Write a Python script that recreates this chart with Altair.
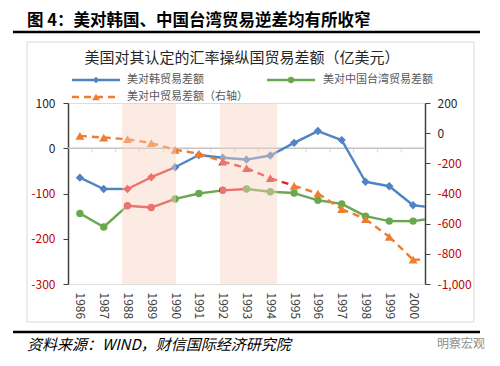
import altair as alt
import pandas as pd

# ---- data (亿美元) ----
years = list(range(1986, 2002))
korea = [-65, -90, -90, -64, -42, -15, -21, -25, -16, 12, 38, 18, -74, -84, -126, -132]
taiwan = [-144, -174, -127, -131, -112, -100, -93, -90, -96, -99, -115, -123, -150, -161, -161, -154]
china = [-18, -29, -40, -66, -110, -136, -188, -232, -298, -349, -400, -503, -570, -687, -839, -836]

korea_marked = [1988, 1989]
taiwan_marked = [1988, 1989, 1992]
china_marked = [1992, 1993, 1994]

band_start = [1987.77, 1991.89]
band_end = [1990.04, 1994.29]

left_ticks = [-300, -200, -100, 0, 100]
right_ticks = [-1000, -800, -600, -400, -200, 0, 200]
label_years = years[:-1]

name_kr = "美对韩贸易差额"
name_tw = "美对中国台湾贸易差额"
name_cn = "美对中贸易差额（右轴）"
chart_title = "美国对其认定的汇率操纵国贸易差额（亿美元）"
fig_title = "图 4：美对韩国、中国台湾贸易逆差均有所收窄"
source = "资料来源：WIND，财信国际经济研究院"
mark_txt = "明察宏观"

BLUE = "#4F84C4"
GREEN = "#6AA84F"
ORANGE = "#ED7D31"
RED = "#E0262E"
FONT = "Noto Sans CJK SC"

def point_df(vals, marked, base):
    return pd.DataFrame({
        "year": years, "value": vals,
        "color": [RED if y in marked else base for y in years],
    })

def seg_df(vals, marked, base):
    rows = []
    for i in range(len(years) - 1):
        c = RED if years[i] in marked else base
        rows.append({"seg": i, "year": years[i], "value": vals[i], "color": c})
        rows.append({"seg": i, "year": years[i + 1], "value": vals[i + 1], "color": c})
    return pd.DataFrame(rows)

xscale = alt.Scale(domain=[1985.5, 2000.5], nice=False, zero=False)
lscale = alt.Scale(domain=[-300, 100], nice=False, zero=False)
rscale = alt.Scale(domain=[-1000, 200], nice=False, zero=False)

lab_expr = "datum.value < 0 ? '-' + format(-datum.value, ',') : format(datum.value, ',')"
lab_color = {"condition": {"test": "datum.value < 0", "value": "#C00000"}, "value": "#262626"}

x_axis = alt.Axis(values=label_years, labelAngle=90, domain=False, ticks=False, grid=False,
                  title=None, labelPadding=8, labelFontSize=12, labelColor="#404040",
                  labelFlush=False, labelOverlap=False, format="d")
left_axis = alt.Axis(values=left_ticks, grid=False, title=None, domainColor="#404040",
                     domainWidth=1.5, tickColor="#404040", tickSize=5, labelPadding=8,
                     labelFontSize=12, labelExpr=lab_expr, labelColor=lab_color)
right_axis = alt.Axis(values=right_ticks, grid=False, title=None, orient="right",
                      domainColor="#404040", domainWidth=1.5, tickColor="#404040", tickSize=5,
                      labelPadding=7, labelFontSize=12, labelExpr=lab_expr, labelColor=lab_color)

dummy = pd.DataFrame({"d": [0]})

def txt(s, x, y, size, color, weight="normal", align="left", italic=False):
    return alt.Chart(dummy).mark_text(
        text=s, align=align, baseline="middle", fontSize=size, color=color,
        fontWeight=weight, fontStyle="italic" if italic else "normal", font=FONT
    ).encode(x=alt.value(x), y=alt.value(y))

def hline(x1, x2, y, color, width, dash=None):
    kw = dict(color=color, strokeWidth=width)
    if dash:
        kw["strokeDash"] = dash
    return alt.Chart(dummy).mark_rule(**kw).encode(x=alt.value(x1), x2=alt.value(x2), y=alt.value(y))

def sym(x, y, shape, color, size):
    return alt.Chart(dummy).mark_point(shape=shape, filled=True, size=size, color=color, opacity=1).encode(
        x=alt.value(x), y=alt.value(y))

# ---- left-axis layers ----
zero = alt.Chart(pd.DataFrame({"v": [0]})).mark_rule(color="#C4C4C4", strokeWidth=1.5).encode(
    y=alt.Y("v:Q", scale=lscale, axis=left_axis))
tick_df = pd.DataFrame({"year": [y + 0.5 for y in years[:-2]], "v": [0] * (len(years) - 2)})
ticks = alt.Chart(tick_df).mark_tick(orient="vertical", size=4, thickness=1, yOffset=2,
                                     color="#C4C4C4").encode(
    x=alt.X("year:Q", scale=xscale, axis=x_axis), y=alt.Y("v:Q", scale=lscale, axis=left_axis))

def series_layers(vals, marked, base, shape, size, scale, yaxis, dash=None):
    lkw = dict(strokeWidth=2.4, clip=True)
    if dash:
        lkw["strokeDash"] = dash
    line = alt.Chart(seg_df(vals, marked, base)).mark_line(**lkw).encode(
        x=alt.X("year:Q", scale=xscale, axis=x_axis),
        y=alt.Y("value:Q", scale=scale, axis=yaxis),
        detail="seg:N",
        color=alt.Color("color:N", scale=None),
    )
    pts = alt.Chart(point_df(vals, marked, base)).mark_point(
        shape=shape, filled=True, size=size, opacity=1, clip=True).encode(
        x=alt.X("year:Q", scale=xscale, axis=x_axis),
        y=alt.Y("value:Q", scale=scale, axis=yaxis),
        color=alt.Color("color:N", scale=None),
    )
    return [line, pts]

kr = series_layers(korea, korea_marked, BLUE, "diamond", 70, lscale, left_axis)
tw = series_layers(taiwan, taiwan_marked, GREEN, "circle", 55, lscale, left_axis)

decor = [
    txt(fig_title, -41, -82, 16.5, "#000000", weight="bold"),
    hline(-55, 412, -71, "#000000", 2.5),
    alt.Chart(dummy).mark_rect(fillOpacity=0, stroke="#D9D9D9", strokeWidth=1).encode(
        x=alt.value(-41), x2=alt.value(406), y=alt.value(-61), y2=alt.value(219)),
    txt(chart_title, 174, -45, 15, "#262626", align="center"),
    hline(4, 52, -23, BLUE, 2.4), sym(28, -23, "diamond", BLUE, 45),
    txt(name_kr, 59, -23, 11, "#595959"),
    hline(199, 247, -23, GREEN, 2.4), sym(223, -23, "circle", GREEN, 40),
    txt(name_tw, 255, -23, 11, "#595959"),
    hline(4, 52, -6, ORANGE, 2.4, dash=[7, 5]), sym(28, -6, "triangle-up", ORANGE, 60),
    txt(name_cn, 59, -6, 11, "#595959"),
    hline(-55, 412, 229, "#000000", 2.5),
    txt(source, -41, 242, 15, "#000000", italic=True),
    txt(mark_txt, 369, 241, 12, "#8C8C8C"),
]

left = alt.layer(zero, ticks, *kr, *tw, *decor)

# ---- right-axis layers ----
cn = series_layers(china, china_marked, ORANGE, "triangle-up", 80, rscale, right_axis, dash=[7, 5])
bands = alt.Chart(pd.DataFrame({"s": band_start, "e": band_end})).mark_rect(
    color="#F7D2BE", opacity=0.45).encode(
    x=alt.X("s:Q", scale=xscale, axis=x_axis), x2="e:Q")
right = alt.layer(*cn, bands)

chart = alt.layer(left, right).resolve_scale(y="independent").properties(
    width=357, height=181,
    autosize=alt.AutoSizeParams(type="none"),
    padding={"left": 60, "top": 95, "right": 67, "bottom": 74},
).configure_view(strokeWidth=0).configure(font=FONT)

chart.save("out.html", embed_options={"renderer": "svg", "actions": False})
